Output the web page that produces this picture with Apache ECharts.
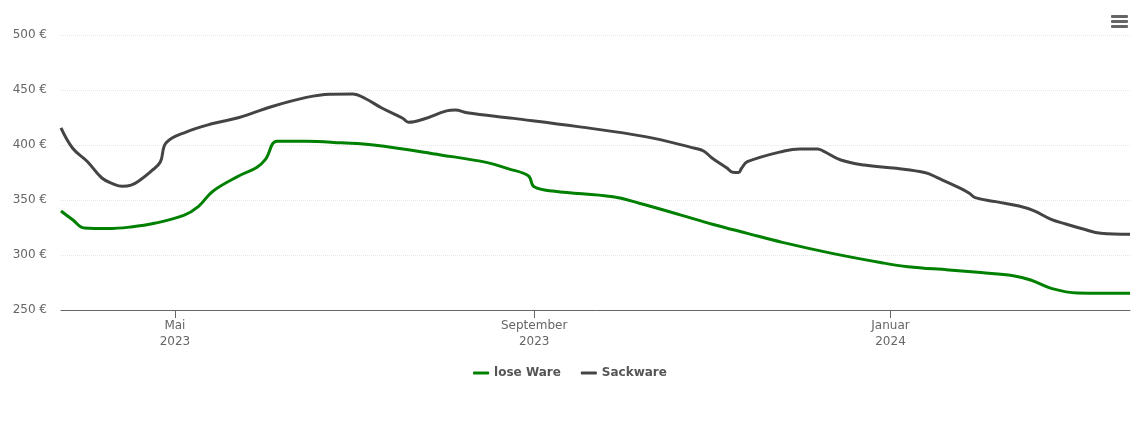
<!DOCTYPE html>
<html>
<head>
<meta charset="utf-8">
<script src="https://cdn.jsdelivr.net/npm/echarts@6/dist/echarts.min.js"></script>
<style>html,body{margin:0;padding:0;background:#fff}#c{width:1140px;height:434px}</style>
</head>
<body>
<div id="c"></div>
<script>
var looseDates = ['2023-03-23','2023-03-27','2023-03-31','2023-04-08','2023-04-16','2023-04-24','2023-05-04','2023-05-09','2023-05-14','2023-05-23','2023-05-29','2023-06-01','2023-06-05','2023-06-15','2023-06-27','2023-07-08','2023-07-31','2023-08-16','2023-08-23','2023-08-30','2023-09-01','2023-09-08','2023-09-28','2023-10-07','2023-10-21','2023-11-01','2023-11-13','2023-11-25','2023-12-12','2023-12-29','2024-01-07','2024-01-21','2024-02-01','2024-02-12','2024-02-18','2024-02-25','2024-03-05','2024-03-23'];
var looseValues = [340,332,324.5,324,325.5,328.8,336,344,358,372,379.5,387,403.5,403.5,402,400,391,384,378.5,372,362,358,353,347,336.5,328,319.7,311.5,301.5,293,289.4,286.4,284,281.2,277.3,269.7,265.5,265.2];

var sackDates = ['2023-03-23','2023-03-27','2023-04-01','2023-04-06','2023-04-10','2023-04-13','2023-04-16','2023-04-19','2023-04-23','2023-04-26','2023-04-28','2023-05-05','2023-05-14','2023-05-23','2023-06-03','2023-06-15','2023-06-23','2023-07-01','2023-07-05','2023-07-11','2023-07-18','2023-07-20','2023-07-25','2023-08-02','2023-08-05','2023-08-09','2023-08-25','2023-09-16','2023-10-09','2023-10-26','2023-10-29','2023-11-01','2023-11-06','2023-11-08','2023-11-10','2023-11-11','2023-11-13','2023-11-26','2023-12-01','2023-12-07','2023-12-09','2023-12-15','2023-12-23','2024-01-03','2024-01-13','2024-01-17','2024-01-25','2024-01-28','2024-01-30','2024-02-06','2024-02-14','2024-02-19','2024-02-25','2024-03-01','2024-03-07','2024-03-13','2024-03-23'];
var sackValues = [415.5,397,385,370,364.5,362.5,363.5,368,376.5,384.5,402,412,419.5,425,434.8,443.3,446.2,446.4,442.5,433.4,424.3,420.6,423.4,431,431.8,429.4,424.2,416.7,407.6,397,394.5,388,379,375.2,375,378.8,384.8,394.8,396.4,396.4,394.5,386.4,381.8,378.8,374.8,370.3,360.6,356.1,352.1,348.5,344.5,340.3,332.4,328.2,323.6,319.7,318.8];

var tickDates = ['2023-05-01','2023-09-01','2024-01-01'];
var tickMonths = ['Mai','September','Januar'];
var tickYears = ['2023','2023','2024'];
var yTicks = [250,300,350,400,450,500];

function ts(s){var p=s.split('-');return new Date(+p[0],+p[1]-1,+p[2]).getTime();}
function pairs(d,v){return d.map(function(x,i){return [ts(x),v[i]];});}
var tickTs = tickDates.map(ts);

var chart = echarts.init(document.getElementById('c'));
chart.setOption({
  animation:false,
  grid:{left:61,right:10,top:35,bottom:124,containLabel:false},
  tooltip:{trigger:'axis'},
  legend:{
    bottom:50,left:'center',
    itemWidth:16,itemHeight:3,itemGap:20,
    icon:'roundRect',
    textStyle:{color:'#555',fontWeight:'bold',fontSize:12,fontFamily:'DejaVu Sans'},
    data:['lose Ware','Sackware']
  },
  graphic:[{type:'group',right:12,top:15,children:[
    {type:'rect',shape:{x:0,y:0,width:17,height:3,r:1},style:{fill:'#666'}},
    {type:'rect',shape:{x:0,y:5,width:17,height:3,r:1},style:{fill:'#666'}},
    {type:'rect',shape:{x:0,y:10,width:17,height:3,r:1},style:{fill:'#666'}}
  ]}],
  xAxis:{
    type:'value',
    min:ts('2023-03-23'),max:ts('2024-03-23'),
    axisLine:{lineStyle:{color:'#666',width:1}},
    axisTick:{show:true,customValues:tickTs,length:8,lineStyle:{color:'#666'}},
    splitLine:{show:false},
    axisLabel:{
      customValues:tickTs,
      color:'#666',fontSize:12,lineHeight:16,margin:8,fontFamily:'DejaVu Sans',
      formatter:function(v){var i=-1;for(var k=0;k<tickTs.length;k++){if(Math.abs(tickTs[k]-v)<86400000)i=k;}return i<0?'':tickMonths[i]+'\n'+tickYears[i];}
    }
  },
  yAxis:{
    type:'value',min:yTicks[0],max:yTicks[yTicks.length-1],interval:50,
    axisLine:{show:false},axisTick:{show:false},
    axisLabel:{color:'#666',fontSize:12,margin:14,fontFamily:'DejaVu Sans',formatter:function(v){return v+' €';}},
    splitLine:{lineStyle:{color:'#e6e6e6',type:'dotted'}}
  },
  series:[
    {name:'lose Ware',type:'line',data:pairs(looseDates,looseValues),smooth:0.4,showSymbol:false,
     lineStyle:{width:3,color:'#008000'},itemStyle:{color:'#008000'}},
    {name:'Sackware',type:'line',data:pairs(sackDates,sackValues),smooth:0.4,showSymbol:false,
     lineStyle:{width:3,color:'#444444'},itemStyle:{color:'#444444'}}
  ]
});
</script>
</body>
</html>
